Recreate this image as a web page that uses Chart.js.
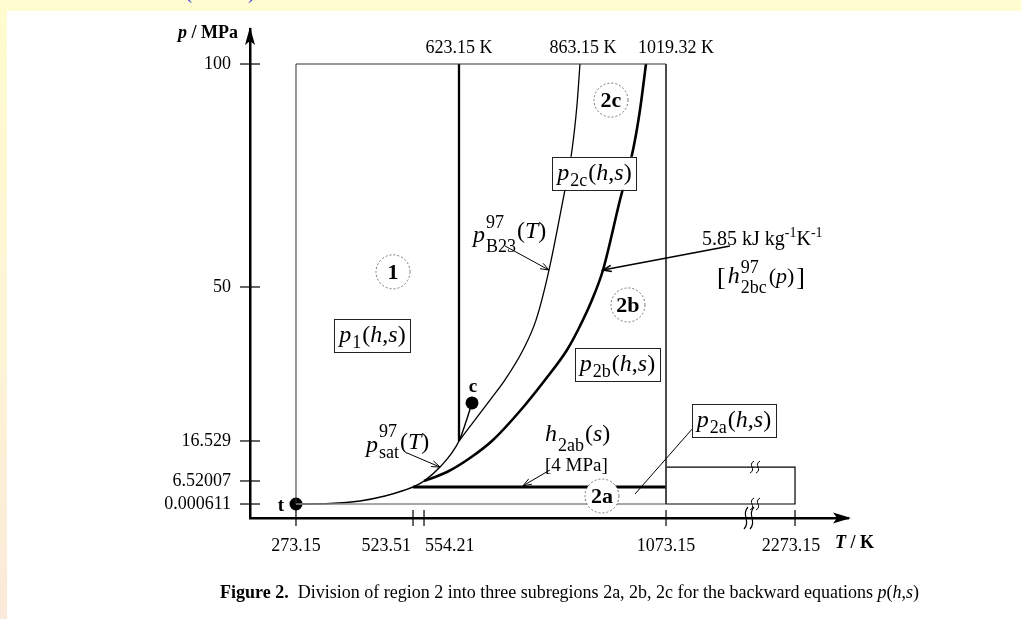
<!DOCTYPE html>
<html>
<head>
<meta charset="utf-8">
<script src="https://cdn.jsdelivr.net/npm/chart.js@4.4.0/dist/chart.umd.min.js"></script>
<style>
    html, body { margin: 0; padding: 0; }
    body {
        width: 1021px; height: 619px; overflow: hidden; position: relative;
        background: linear-gradient(180deg, #fffccf 0%, #fdf3d6 60%, #fbe9d9 100%);
        font-family: "Liberation Serif", "Times New Roman", serif;
    }
    #topNote { position: absolute; left: 186px; top: -17px; color: #2222dd; font-size: 18px; }
    #panel { position: absolute; left: 7px; top: 11px; right: 0; bottom: 0; background: #fff; }
    #chart { position: absolute; left: 0; top: 0; }
    #caption { position: absolute; left: 220px; top: 582px; font-size: 18px; color: #000; white-space: nowrap; }
</style>
</head>
<body>
<div id="topNote">(IAPWS)</div>
<div id="panel"></div>
<canvas id="chart" width="1021" height="619"></canvas>
<div id="caption"><b>Figure 2.</b>&nbsp; Division of region 2 into three subregions 2a, 2b, 2c for the backward equations <i>p</i>(<i>h</i>,<i>s</i>)</div>

<script>
const SERIF = '"Liberation Serif", "Times New Roman", serif';

// ================= TICKS =================

const xTickValues = [273.15, 523.51, 554.21, 1073.15, 2273.15];
const xTickLabels = ["273.15", "523.51", "554.21", "1073.15", "2273.15"];
const yTickValues = [0.000611, 6.52007, 16.529, 50, 100];
const yTickLabels = ["0.000611", "6.52007", "16.529", "50", "100"];
const topTValues = [623.15, 863.15, 1019.32];
const topTLabels = ["623.15 K", "863.15 K", "1019.32 K"];

// ================= BOUNDARY CURVES (T / K, p / MPa) =================

const satT = [273.15, 345.9, 410.1, 463.6, 506.4, 523.51, 554.21, 585.7, 623.15, 637.0, 649.0];
const satP = [0.000611, 0.12, 0.71, 1.88, 3.29, 4.0, 6.52007, 10.0, 16.529, 20.7, 24.8];

const b23T = [623.15, 654.9, 684.6, 714.4, 750.1, 775.9, 801.7, 829.4, 847.3, 857.2, 863.15];
const b23P = [16.529, 21.1, 25.4, 29.8, 36.3, 42.8, 53.8, 69.5, 80.7, 90.8, 100];

const bcT = [554.21, 599.5, 645.0, 690.6, 744.1, 793.7, 837.4, 859.2, 891.5, 917.6, 957.8, 988.6, 1005.1, 1019.32];
const bcP = [6.52007, 8.77, 12.27, 16.75, 23.05, 29.79, 36.31, 40.65, 47.17, 53.81, 69.51, 80.72, 89.69, 100];

// straight boundaries
const tTriple = 273.15, pTriple = 0.000611;
const tCrit = 649.0, pCrit = 24.8;
const t13 = 623.15, p13 = 16.529;
const t2ab = 523.51, p2ab = 4;
const tMax = 1073.15, tMax5 = 2273.15, pMax = 100, p5Max = 10;

// ================= REGION LABELS =================

const regionLabels = ["1", "2a", "2b", "2c"];
const regionT = [480.7, 915.2, 976.7, 936.5];
const regionP = [53.4, 1.88, 46.1, 91.9];

const eqnSubs = ["1", "2a", "2b", "2c"];
const eqnT = [436.8, 1705.7, 951.9, 897.5];
const eqnP = [39.6, 21.1, 33.2, 75.6];

// ================= SCHEMATIC AXIS (not to scale) =================

const xKnotValues = [180, 273.15, 523.51, 554.21, 623.15, 863.15, 1019.32, 1073.15, 2273.15, 2500];
const xKnotFractions = [0, 0.0769, 0.2726, 0.2910, 0.3495, 0.5518, 0.6622, 0.6957, 0.9114, 1];
const yKnotValues = [-3, 0.000611, 4, 6.52007, 16.529, 50, 100, 108];
const yKnotFractions = [0, 0.0286, 0.0634, 0.0757, 0.1575, 0.4724, 0.9284, 1];

function toDecimal(v, vals, fr)
{
    if(v <= vals[0]) return fr[0] + (v - vals[0]) / (vals[1] - vals[0]) * (fr[1] - fr[0]);
    for(let i = 1; i < vals.length; i++)
    {
        if(v <= vals[i] || i === vals.length - 1)
            return fr[i - 1] + (v - vals[i - 1]) / (vals[i] - vals[i - 1]) * (fr[i] - fr[i - 1]);
    }
}

function fromDecimal(d, vals, fr)
{
    for(let i = 1; i < fr.length; i++)
    {
        if(d <= fr[i] || i === fr.length - 1)
            return vals[i - 1] + (d - fr[i - 1]) / (fr[i] - fr[i - 1]) * (vals[i] - vals[i - 1]);
    }
}

class PiecewiseScale extends Chart.LinearScale
{
    knots()
    {
        return this.axis === "x"
            ? [xKnotValues, xKnotFractions]
            : [yKnotValues, yKnotFractions];
    }
    getPixelForValue(value)
    {
        const k = this.knots();
        return this.getPixelForDecimal(toDecimal(value, k[0], k[1]));
    }
    getValueForPixel(pixel)
    {
        const k = this.knots();
        return fromDecimal(this.getDecimalForPixel(pixel), k[0], k[1]);
    }
}
PiecewiseScale.id = "piecewise";
PiecewiseScale.defaults = Chart.LinearScale.defaults;
Chart.register(PiecewiseScale);

// ================= TEXT HELPERS =================

const F = (size, style) => (style ? style + " " : "") + size + "px " + SERIF;
const txt = (t, size, style, dy, gap) => ({ t, font: F(size, style), dy: dy || 0, gap: gap || 0 });
const stack = (sup, sub, size, supDy, subDy, gap) => ({ sup, sub, font: F(size), supDy, subDy, gap: gap || 0 });

function partWidth(ctx, p)
{
    ctx.font = p.font;
    if(p.t === undefined)
        return Math.max(ctx.measureText(p.sup).width, ctx.measureText(p.sub).width);
    return ctx.measureText(p.t).width;
}

function drawRich(ctx, x, y, parts, align)
{
    const total = parts.reduce((s, p) => s + partWidth(ctx, p) + p.gap, 0);
    let cx = align === "center" ? x - total / 2 : align === "right" ? x - total : x;
    ctx.textAlign = "left";
    ctx.textBaseline = "alphabetic";
    parts.forEach(p =>
    {
        const w = partWidth(ctx, p);
        ctx.font = p.font;
        if(p.t === undefined)
        {
            ctx.fillText(p.sup, cx, y + p.supDy);
            ctx.fillText(p.sub, cx, y + p.subDy);
        }
        else
            ctx.fillText(p.t, cx, y + p.dy);
        cx += w + p.gap;
    });
    return total;
}

function arrowLine(ctx, x1, y1, x2, y2, head)
{
    ctx.beginPath();
    ctx.moveTo(x1, y1);
    ctx.lineTo(x2, y2);
    ctx.stroke();
    if(!head) return;
    const a = Math.atan2(y2 - y1, x2 - x1);
    ctx.beginPath();
    ctx.moveTo(x2 - 9 * Math.cos(a - 0.35), y2 - 9 * Math.sin(a - 0.35));
    ctx.lineTo(x2, y2);
    ctx.lineTo(x2 - 9 * Math.cos(a + 0.35), y2 - 9 * Math.sin(a + 0.35));
    ctx.stroke();
}

function breakMark(ctx, x, y, h)
{
    [-3, 3].forEach(o =>
    {
        ctx.beginPath();
        ctx.moveTo(x + o + 2, y - h);
        ctx.bezierCurveTo(x + o - 5, y - h * 0.3, x + o + 5, y + h * 0.3, x + o - 2, y + h);
        ctx.stroke();
    });
}

const eqnParts = sub => [
    txt("p", 24, "italic", 0, 1), txt(sub, 18, "", 6, 1),
    txt("(", 24), txt("h", 24, "italic"), txt(",", 24), txt("s", 24, "italic"), txt(")", 24)
];

// ================= DIAGRAM PLUGIN =================

const diagram =
{
    id: "diagram",
    afterDatasetsDraw(chart)
    {
        const ctx = chart.ctx;
        const xs = chart.scales.x, ys = chart.scales.y;
        const X = v => xs.getPixelForValue(v);
        const Y = v => ys.getPixelForValue(v);
        const area = chart.chartArea;

        ctx.save();
        ctx.fillStyle = "#000";
        ctx.strokeStyle = "#000";

        // axis arrows
        ctx.beginPath();
        ctx.moveTo(area.left, area.top - 2);
        ctx.lineTo(area.left + 5, area.top + 16);
        ctx.lineTo(area.left, area.top + 12);
        ctx.lineTo(area.left - 5, area.top + 16);
        ctx.closePath();
        ctx.fill();

        ctx.beginPath();
        ctx.moveTo(area.right + 3, area.bottom);
        ctx.lineTo(area.right - 15, area.bottom - 5.5);
        ctx.lineTo(area.right - 11, area.bottom);
        ctx.lineTo(area.right - 15, area.bottom + 5.5);
        ctx.closePath();
        ctx.fill();

        // tick marks
        ctx.lineWidth = 1.2;
        xTickValues.forEach(v =>
        {
            ctx.beginPath();
            ctx.moveTo(X(v), area.bottom - 8);
            ctx.lineTo(X(v), area.bottom + 8);
            ctx.stroke();
        });
        yTickValues.forEach(v =>
        {
            ctx.beginPath();
            ctx.moveTo(area.left - 10, Y(v));
            ctx.lineTo(area.left + 10, Y(v));
            ctx.stroke();
        });

        // x tick labels
        const xAlign = ["center", "right", "left", "center", "center"];
        const xShift = [0, -2, 1, 0, -4];
        ctx.font = F(18);
        ctx.textBaseline = "alphabetic";
        xTickValues.forEach((v, i) =>
        {
            ctx.textAlign = xAlign[i];
            ctx.fillText(xTickLabels[i], X(v) + xShift[i], area.bottom + 33);
        });

        // top temperature labels
        const topAlign = ["center", "center", "left"];
        const topShift = [0, 3, -8];
        topTValues.forEach((v, i) =>
        {
            ctx.textAlign = topAlign[i];
            ctx.fillText(topTLabels[i], X(v) + topShift[i], Y(102.5));
        });

        // axis titles
        drawRich(ctx, area.left - 12, area.top + 9,
            [txt("p", 18, "italic bold"), txt(" / MPa", 18, "bold")], "right");
        drawRich(ctx, area.right - 13, area.bottom + 30,
            [txt("T", 18, "italic bold"), txt(" / K", 18, "bold")], "left");

        // break marks
        ctx.lineWidth = 1;
        breakMark(ctx, X(1901), Y(p5Max), 6);
        breakMark(ctx, X(1901), Y(pTriple), 6);
        ctx.lineWidth = 1.2;
        breakMark(ctx, X(1845), area.bottom, 11);

        // leader lines
        ctx.lineWidth = 1;
        arrowLine(ctx, X(714.4), Y(59.2), X(801.7), Y(53.8), true);
        arrowLine(ctx, X(510.7), Y(13.53), X(585.7), Y(10.0), true);
        arrowLine(ctx, X(803.6), Y(9.27), X(750.1), Y(4.5), true);
        arrowLine(ctx, X(1324.3), Y(19.35), X(993.3), Y(2.35), false);
        ctx.lineWidth = 1.6;
        arrowLine(ctx, X(1668.5), Y(59.19), X(917.6), Y(53.81), true);

        // region circles
        regionLabels.forEach((lab, i) =>
        {
            const cx = X(regionT[i]), cy = Y(regionP[i]);
            ctx.beginPath();
            ctx.arc(cx, cy, 17, 0, Math.PI * 2);
            ctx.fillStyle = "#fff";
            ctx.fill();
            ctx.setLineDash([2, 2]);
            ctx.lineWidth = 0.8;
            ctx.strokeStyle = "#555";
            ctx.stroke();
            ctx.setLineDash([]);
            ctx.fillStyle = "#000";
            ctx.font = F(22, "bold");
            ctx.textAlign = "center";
            ctx.textBaseline = "middle";
            ctx.fillText(lab, cx, cy + 1);
        });
        ctx.strokeStyle = "#000";

        // equation boxes
        eqnSubs.forEach((sub, i) =>
        {
            const cx = X(eqnT[i]), cy = Y(eqnP[i]);
            const parts = eqnParts(sub);
            const w = parts.reduce((s, p) => s + partWidth(ctx, p) + p.gap, 0) + 10;
            ctx.fillStyle = "#fff";
            ctx.fillRect(cx - w / 2, cy - 16, w, 33);
            ctx.lineWidth = 1;
            ctx.strokeStyle = "#222";
            ctx.strokeRect(Math.round(cx - w / 2) + 0.5, Math.round(cy - 16) + 0.5, Math.round(w), 33);
            ctx.fillStyle = "#000";
            drawRich(ctx, cx, cy + 7, parts, "center");
        });

        // boundary labels
        drawRich(ctx, X(650.9), Y(60.1), [
            txt("p", 24, "italic", 0, 1), stack("97", "B23", 18, -14, 10, 1),
            txt("(", 24, "", -4), txt("T", 24, "italic", -4), txt(")", 24, "", -4)
        ], "left");

        drawRich(ctx, X(422.9), Y(13.78), [
            txt("p", 24, "italic", 0, 1), stack("97", "sat", 18, -15, 6, 1),
            txt("(", 24, "", -3), txt("T", 24, "italic", -3), txt(")", 24, "", -3)
        ], "left");

        drawRich(ctx, X(793.7), Y(16.53), [
            txt("h", 24, "italic", 0, 1), txt("2ab", 18, "", 10, 1),
            txt("(", 24), txt("s", 24, "italic"), txt(")", 24)
        ], "left");

        drawRich(ctx, X(793.7), Y(9.02), [txt("[4 MPa]", 19)], "left");

        drawRich(ctx, X(1408), Y(59.42), [
            txt("5.85 kJ kg", 20), txt("-1", 14, "", -8), txt("K", 20), txt("-1", 14, "", -8)
        ], "left");

        drawRich(ctx, X(1547.6), Y(50.9), [
            txt("[", 26, "", 2, 2), txt("h", 24, "italic", 0, 1), stack("97", "2bc", 18, -10, 10, 2),
            txt("(", 22), txt("p", 22, "italic"), txt(")", 22, "", 0, 2), txt("]", 26, "", 2)
        ], "left");

        // point labels
        ctx.fillStyle = "#000";
        ctx.font = F(19, "bold");
        ctx.textAlign = "center";
        ctx.textBaseline = "middle";
        ctx.fillText("c", X(650.9), Y(28.3));
        ctx.fillText("t", X(242.8), Y(-0.43));

        ctx.restore();
    }
};

// ================= DATASETS =================

const line = (pts, width, color, extra) => Object.assign({
    data: pts, borderColor: color, borderWidth: width,
    pointRadius: 0, fill: false, tension: 0
}, extra || {});

const curve = (ts, ps) => ts.map((t, i) => ({ x: t, y: ps[i] }));

new Chart(document.getElementById("chart"),
{
    type: "line",
    data:
    {
        datasets:
        [
            line([{ x: tTriple, y: pTriple }, { x: tTriple, y: pMax }, { x: tMax, y: pMax }, { x: tMax, y: pTriple }], 1, "#333"),
            line([{ x: tTriple, y: pTriple }, { x: tMax, y: pTriple }], 1.4, "#8a8a8a"),
            line([{ x: tMax, y: p5Max }, { x: tMax5, y: p5Max }, { x: tMax5, y: pTriple }, { x: tMax, y: pTriple }], 1.2, "#000"),
            line([{ x: t2ab, y: p2ab }, { x: tMax, y: p2ab }], 3, "#000"),
            line([{ x: t13, y: p13 }, { x: t13, y: pMax }], 2.3, "#000"),
            line(curve(satT, satP), 1.4, "#000", { cubicInterpolationMode: "monotone" }),
            line(curve(b23T, b23P), 1.3, "#000", { cubicInterpolationMode: "monotone" }),
            line(curve(bcT, bcP), 2.6, "#000", { cubicInterpolationMode: "monotone" }),
            line([{ x: tTriple, y: pTriple }, { x: tCrit, y: pCrit }], 0, "#000",
                { showLine: false, pointRadius: 6.5, pointBackgroundColor: "#000", pointBorderWidth: 0 })
        ]
    },
    options:
    {
        responsive: false,
        animation: false,
        events: [],
        layout: { padding: { left: 0, right: 173, top: 29, bottom: 0 } },
        plugins: { legend: { display: false }, tooltip: { enabled: false } },
        scales:
        {
            x:
            {
                type: "piecewise",
                min: 180, max: 2500,
                grid: { display: false },
                border: { color: "#000", width: 2.5 },
                ticks: { display: false },
                afterFit: s => { s.height = 101; },
                afterBuildTicks: s => { s.ticks = xTickValues.map(v => ({ value: v })); }
            },
            y:
            {
                type: "piecewise",
                min: -3, max: 108,
                grid: { display: false },
                border: { color: "#000", width: 2.5 },
                ticks:
                {
                    color: "#000",
                    padding: 11,
                    font: { family: SERIF, size: 18 },
                    callback: (v, i) => yTickLabels[i]
                },
                afterFit: s => { s.width = 250; },
                afterBuildTicks: s => { s.ticks = yTickValues.map(v => ({ value: v })); }
            }
        }
    },
    plugins: [diagram]
});
</script>
</body>
</html>
